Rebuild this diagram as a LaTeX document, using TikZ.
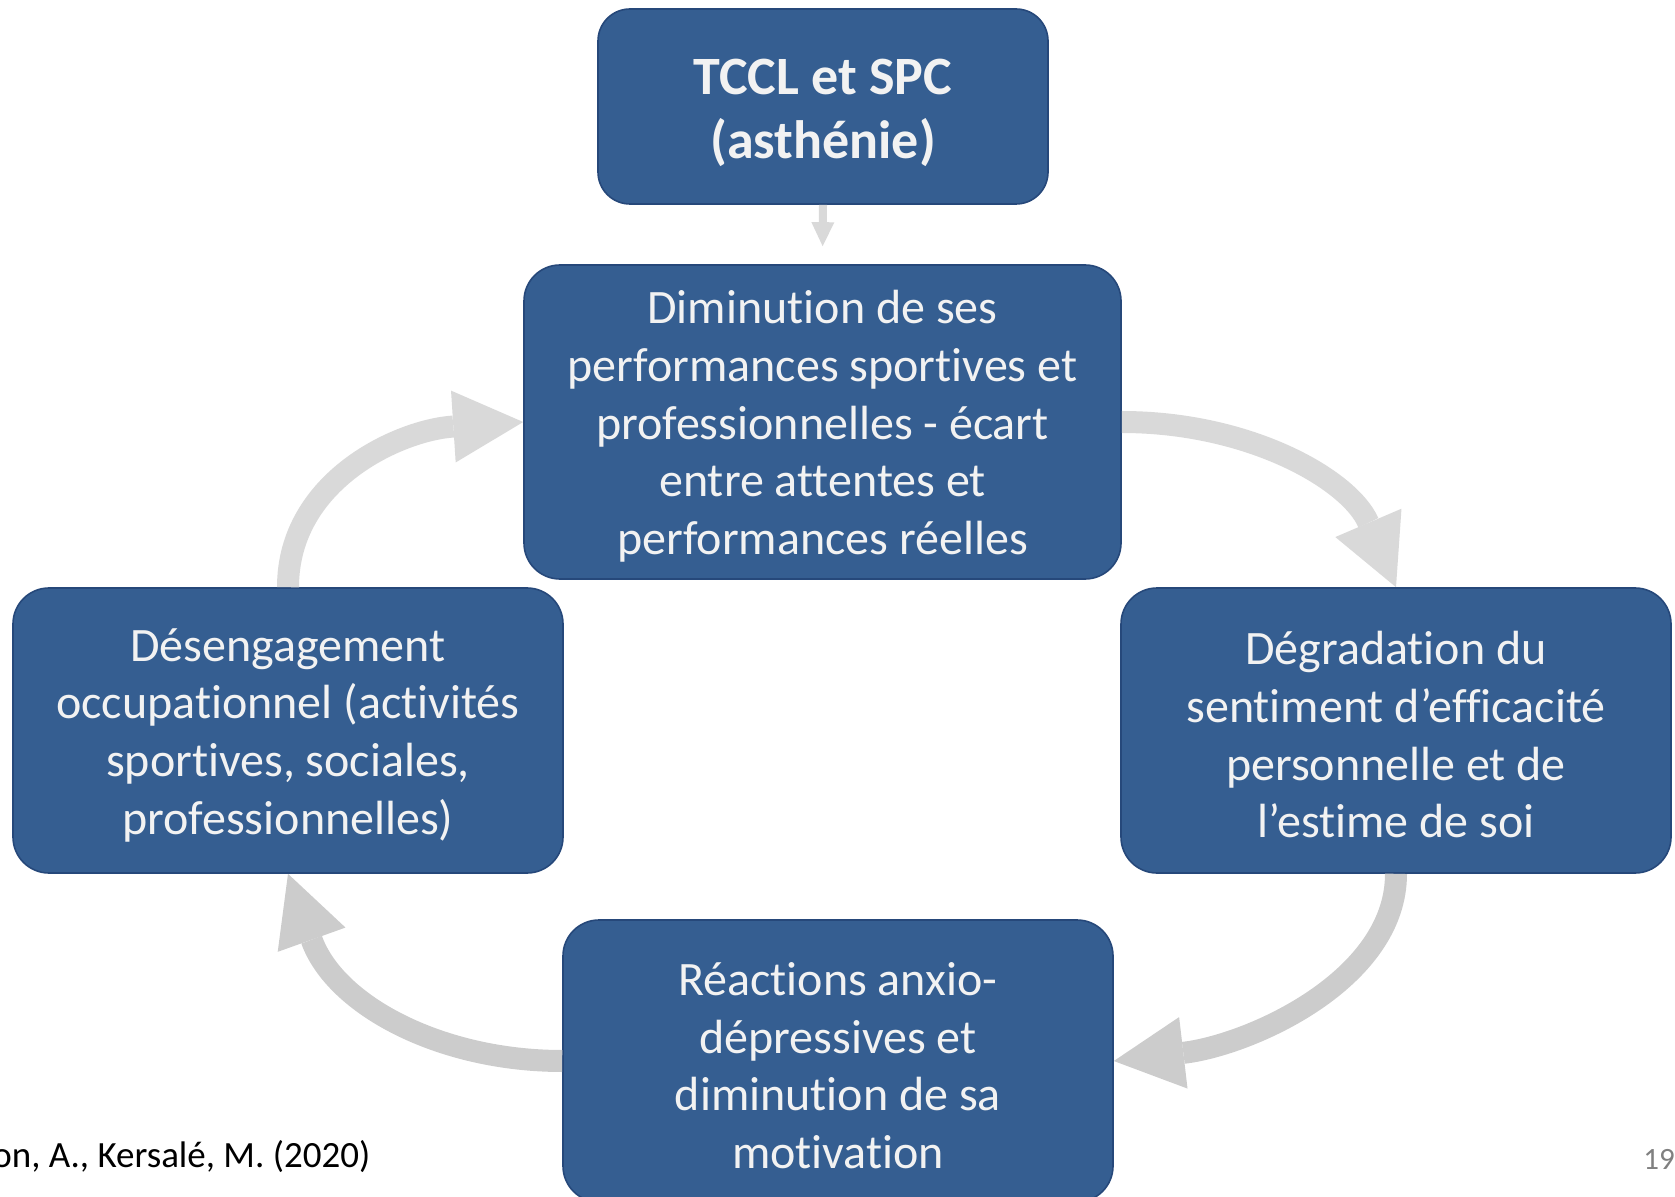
\documentclass[tikz,border=0pt]{standalone}
\usepackage{fontspec}
\setmainfont{Carlito}[Ligatures=NoCommon]
\usetikzlibrary{arrows.meta}

\definecolor{blocfond}{RGB}{53,94,145}
\definecolor{blocbord}{RGB}{38,72,122}
\definecolor{texteblanc}{RGB}{242,242,242}
\definecolor{grisclair}{RGB}{217,217,217}
\definecolor{gris}{RGB}{204,204,204}

% interligne du haut comme dans le diaporama
\newcommand{\hautligne}[1][21pt]{\rule{0pt}{#1}}

\tikzset{
	bloc/.style={draw=blocbord, line width=0.8pt, fill=blocfond, rounded corners=18pt,
		text=texteblanc, align=center, inner sep=0pt,
		font=\fontsize{24}{28.8}\selectfont},
	fleche/.style={line width=11pt,
		-{Triangle[length=35pt,width=36pt,line width=0pt]}},
}

\begin{document}
\begin{tikzpicture}[x=0.5pt,y=-0.5pt]
			\useasboundingbox (0,0) rectangle (1675,1197);
			\clip (0,0) rectangle (1675,1197);
			% les cinq blocs
			\node[bloc, rounded corners=16pt, minimum width=225pt, minimum height=97.5pt,
				font=\bfseries\fontsize{27}{32}\selectfont] (tccl) at (823,106.5) {\hautligne[24pt]TCCL et SPC\\(asthénie)};
			\node[bloc, minimum width=298.5pt, minimum height=157pt] (perf) at (822.5,422)
				{\hautligne Diminution de ses\\performances sportives et\\professionnelles - écart\\entre attentes et\\performances réelles};
			\node[bloc, minimum width=275pt, minimum height=142.5pt] (estime) at (1396,730.5)
				{\hautligne Dégradation du\\sentiment d’efficacité\\personnelle et de\\l’estime de soi};
			\node[bloc, minimum width=275pt, minimum height=141pt] (reac) at (838,1061)
				{\hautligne Réactions anxio-\\dépressives et\\diminution de sa\\motivation};
			\node[bloc, minimum width=275pt, minimum height=142.5pt] (desen) at (288,730.5)
				{\hautligne Désengagement\\occupationnel (activités\\sportives, sociales,\\professionnelles)};
			% fleche d'entree
			\draw[grisclair, line width=4pt, shorten >=9pt,
				-{Triangle[length=12pt,width=11.5pt,line width=0pt]}] (tccl.south) -- (perf.north);
			% le cercle vicieux
			\draw[fleche, grisclair] (perf.east) .. controls (1250,422) and (1350,480) .. (estime.north);
			\draw[fleche, gris] (estime.south) .. controls (1396,980) and (1250,1045) .. (reac.east);
			\draw[fleche, gris] (reac.west) .. controls (440,1061) and (335,1005) .. (desen.south);
			\draw[fleche, grisclair] (desen.north) .. controls (288,480) and (400,430) .. (perf.west);
			% bas de page
			\node[anchor=base west, inner sep=0pt, font=\fontsize{18.5}{22}\selectfont] (source) at (-8,1167) {on, A., Kersalé, M. (2020)};
			\node[anchor=base west, inner sep=0pt, text=gray, font=\fontsize{15.5}{18}\selectfont] (page) at (1643,1169) {19};
		\end{tikzpicture}
\end{document}
